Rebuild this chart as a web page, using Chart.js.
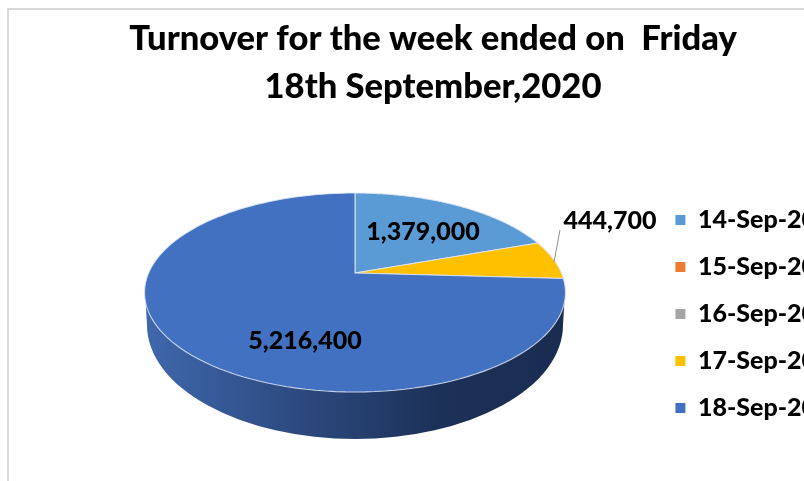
<!DOCTYPE html>
<html>
<head>
<meta charset="utf-8">
<title>Turnover</title>
<script src="https://cdn.jsdelivr.net/npm/chart.js@4"></script>
<style>
html, body { margin: 0; padding: 0; background: #fff; overflow: hidden; width: 804px; height: 481px; }
#frame { position: absolute; left: 7px; top: 8px; width: 830px; height: 500px; border-left: 2px solid #d9d9d9; border-top: 2px solid #d9d9d9; }
#wrap { position: absolute; left: 0; top: 0; width: 826px; height: 628px; }
</style>
</head>
<body>
<div id="frame"></div>
<div id="wrap"><canvas id="pie"></canvas></div>
<script>
var days = ['14-Sep-20', '15-Sep-20', '16-Sep-20', '17-Sep-20', '18-Sep-20'];
var turnover = [1379000, 0, 0, 444700, 5216400];
var colours = ['#5b9bd5', '#ed7d31', '#a5a5a5', '#ffc000', '#4371c1'];
var titleLines = ['Turnover for the week ended on  Friday', '18th September,2020'];

// where the value labels sit on the page (null = no label for that day)
var labelSpots = [[423, 232], null, null, [610, 221], [305, 341]];

// the pie is tilted with perspective, so the apex is not the ellipse centre
var tilt = { x: 355, y: 273, a: 206.4, b: 95.7, k: 0.196 };

function project(angle) {
    var u = Math.cos(angle), v = Math.sin(angle);
    var w = 1 - tilt.k * v;
    return [tilt.x + tilt.a * u / w, tilt.y + tilt.b * v / w];
}

var tiltedPie = {
    id: 'tiltedPie',
    beforeDatasetDraw: function (chart, args) {
        var ctx = chart.ctx;
        // side wall first
        var grad = ctx.createLinearGradient(147, 0, 563, 0);
        grad.addColorStop(0, '#3f67ac');
        grad.addColorStop(0.35, '#2d4b81');
        grad.addColorStop(0.7, '#1c3158');
        grad.addColorStop(1, '#1a2c50');
        ctx.save();
        ctx.beginPath();
        ctx.moveTo(145, 292);
        ctx.lineTo(147, 325);
        ctx.ellipse(355, 325, 208, 114, 0, Math.PI, 0, true);
        ctx.lineTo(565, 292);
        ctx.closePath();
        ctx.fillStyle = grad;
        ctx.fill();

        // top face, from the arcs the library worked out
        args.meta.data.forEach(function (arc) {
            if (arc.endAngle - arc.startAngle <= 0) return;
            var steps = 120;
            ctx.beginPath();
            ctx.moveTo(tilt.x, tilt.y);
            for (var i = 0; i <= steps; i++) {
                var p = project(arc.startAngle + (arc.endAngle - arc.startAngle) * i / steps);
                ctx.lineTo(p[0], p[1]);
            }
            ctx.closePath();
            ctx.fillStyle = arc.options.backgroundColor;
            ctx.fill();
            ctx.strokeStyle = 'rgba(225,232,245,0.85)';
            ctx.lineWidth = 1.1;
            ctx.stroke();
        });
        ctx.restore();
        return false;
    },
    afterDatasetsDraw: function (chart) {
        var ctx = chart.ctx;
        ctx.save();
        // leader line of the small slice
        ctx.strokeStyle = '#8c8c8c';
        ctx.lineWidth = 1;
        ctx.beginPath();
        ctx.moveTo(560, 230);
        ctx.lineTo(554, 262);
        ctx.stroke();

        ctx.fillStyle = '#000';
        ctx.font = '900 25px Lato';
        ctx.textAlign = 'center';
        ctx.textBaseline = 'middle';
        turnover.forEach(function (v, i) {
            if (!labelSpots[i]) return;
            ctx.fillText(v.toLocaleString('en-US'), labelSpots[i][0], labelSpots[i][1]);
        });
        ctx.restore();
    }
};

new Chart(document.getElementById('pie').getContext('2d'), {
    type: 'pie',
    plugins: [tiltedPie],
    data: {
        labels: days,
        datasets: [{
            data: turnover,
            backgroundColor: colours,
            borderWidth: 0
        }]
    },
    options: {
        responsive: true,
        maintainAspectRatio: false,
        animation: false,
        layout: { padding: { left: 40 } },
        plugins: {
            tooltip: { enabled: false },
            title: {
                display: true,
                text: titleLines,
                color: '#000',
                font: { family: 'Lato', size: 34.6, weight: '900', lineHeight: 1.38 },
                padding: { top: 15, bottom: 10 }
            },
            legend: {
                position: 'right',
                labels: {
                    color: '#000',
                    font: { family: 'Lato', size: 25, weight: '900' },
                    boxWidth: 10,
                    boxHeight: 10,
                    padding: 22
                }
            }
        }
    }
});
</script>
</body>
</html>
